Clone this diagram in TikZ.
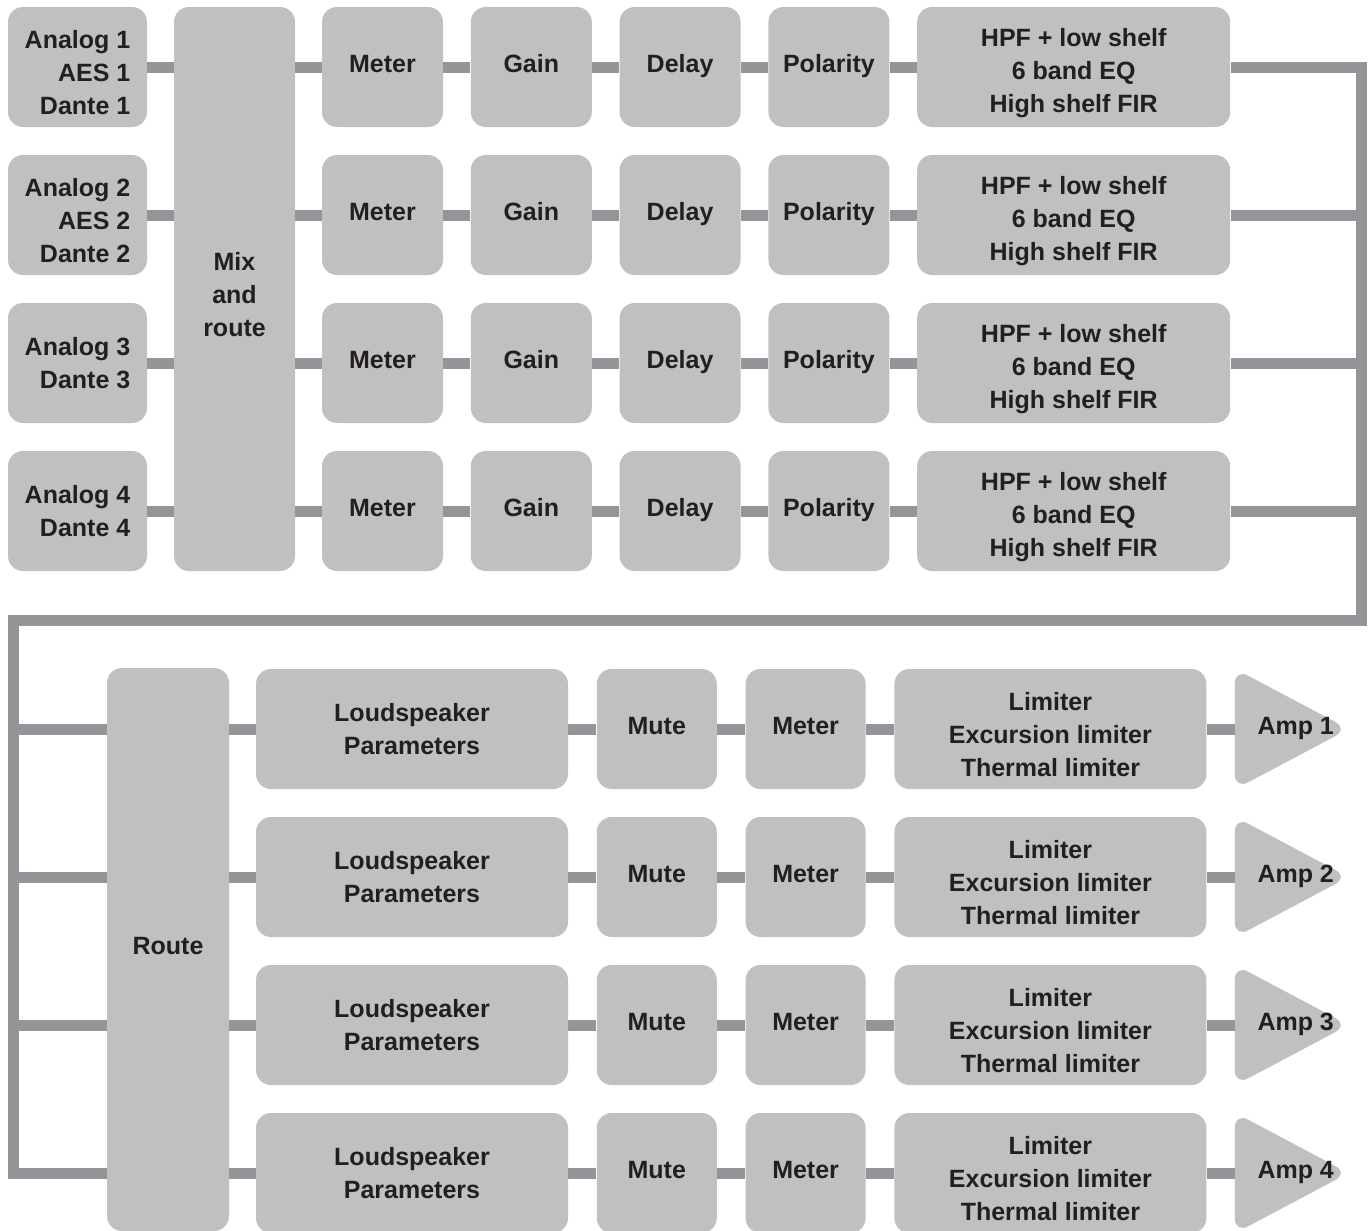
\documentclass[tikz,border=0pt]{standalone}
\usepackage{fontspec}
\setmainfont{Liberation Sans}
\usetikzlibrary{positioning, backgrounds}
\definecolor{colorBlock}{RGB}{192,192,192}
\definecolor{colorWire}{RGB}{147,149,152}
\definecolor{colorText}{RGB}{35,31,32}
\newcommand{\firstgap}{\rule{0pt}{15pt}}
\tikzset{
  block/.style={rectangle, rounded corners=7.5pt, fill=colorBlock, text=colorText,
    font=\fontsize{12.5}{16.5}\selectfont\bfseries, align=center, inner sep=0pt,
    minimum height=60pt, minimum width=60.5pt},
  oneline/.style={text height=9pt, text depth=4pt},
  wide/.style={block, minimum width=156pt},
  amp/.style={block, oneline, fill=none, minimum width=56.5pt, execute at begin node={\hspace*{4pt}}},
  wire/.style={draw=colorWire, line width=5.5pt, line join=miter}
}

\begin{document}
\begin{tikzpicture}[x=0.5pt, y=-0.5pt, node distance=13.5pt]
\useasboundingbox (0,0) rectangle (1372,1231);
% inputs and mixer
\node[block, minimum width=69.5pt, align=right] (in1) at (77.5,67) {\firstgap Analog 1\\AES 1\\Dante 1};
\node[block, minimum width=69.5pt, align=right] (in2) at (77.5,215) {\firstgap Analog 2\\AES 2\\Dante 2};
\node[block, minimum width=69.5pt, align=right] (in3) at (77.5,363) {Analog 3\\Dante 3};
\node[block, minimum width=69.5pt, align=right] (in4) at (77.5,511) {Analog 4\\Dante 4};
\node[block, minimum height=282pt] (mix) at (234.5,289) {\firstgap Mix\\and\\route};
% input channels
\node[block, oneline] (met1) at (382.5,67) {Meter};
\node[block, oneline, right=of met1] (gain1) {Gain};
\node[block, oneline, right=of gain1] (del1) {Delay};
\node[block, oneline, right=of del1] (pol1) {Polarity};
\node[wide, minimum width=156.5pt, right=of pol1] (eq1) {\firstgap HPF + low shelf\\6 band EQ\\High shelf FIR};
\node[block, oneline] (met2) at (382.5,215) {Meter};
\node[block, oneline, right=of met2] (gain2) {Gain};
\node[block, oneline, right=of gain2] (del2) {Delay};
\node[block, oneline, right=of del2] (pol2) {Polarity};
\node[wide, minimum width=156.5pt, right=of pol2] (eq2) {\firstgap HPF + low shelf\\6 band EQ\\High shelf FIR};
\node[block, oneline] (met3) at (382.5,363) {Meter};
\node[block, oneline, right=of met3] (gain3) {Gain};
\node[block, oneline, right=of gain3] (del3) {Delay};
\node[block, oneline, right=of del3] (pol3) {Polarity};
\node[wide, minimum width=156.5pt, right=of pol3] (eq3) {\firstgap HPF + low shelf\\6 band EQ\\High shelf FIR};
\node[block, oneline] (met4) at (382.5,511) {Meter};
\node[block, oneline, right=of met4] (gain4) {Gain};
\node[block, oneline, right=of gain4] (del4) {Delay};
\node[block, oneline, right=of del4] (pol4) {Polarity};
\node[wide, minimum width=156.5pt, right=of pol4] (eq4) {\firstgap HPF + low shelf\\6 band EQ\\High shelf FIR};
% output channels
\node[block, oneline, minimum width=61pt, minimum height=281.5pt] (route) at (168,949.5) {Route};
\node[wide] (spk1) at (412,729) {Loudspeaker\\Parameters};
\node[block, oneline, minimum width=60pt, right=14pt of spk1] (mute1) {Mute};
\node[block, oneline, minimum width=60pt, right=14pt of mute1] (omet1) {Meter};
\node[wide, right=14pt of omet1] (lim1) {\firstgap Limiter\\Excursion limiter\\Thermal limiter};
\node[amp, right=14pt of lim1] (amp1) {Amp 1};
\node[wide] (spk2) at (412,877) {Loudspeaker\\Parameters};
\node[block, oneline, minimum width=60pt, right=14pt of spk2] (mute2) {Mute};
\node[block, oneline, minimum width=60pt, right=14pt of mute2] (omet2) {Meter};
\node[wide, right=14pt of omet2] (lim2) {\firstgap Limiter\\Excursion limiter\\Thermal limiter};
\node[amp, right=14pt of lim2] (amp2) {Amp 2};
\node[wide] (spk3) at (412,1025) {Loudspeaker\\Parameters};
\node[block, oneline, minimum width=60pt, right=14pt of spk3] (mute3) {Mute};
\node[block, oneline, minimum width=60pt, right=14pt of mute3] (omet3) {Meter};
\node[wide, right=14pt of omet3] (lim3) {\firstgap Limiter\\Excursion limiter\\Thermal limiter};
\node[amp, right=14pt of lim3] (amp3) {Amp 3};
\node[wide] (spk4) at (412,1173) {Loudspeaker\\Parameters};
\node[block, oneline, minimum width=60pt, right=14pt of spk4] (mute4) {Mute};
\node[block, oneline, minimum width=60pt, right=14pt of mute4] (omet4) {Meter};
\node[wide, right=14pt of omet4] (lim4) {\firstgap Limiter\\Excursion limiter\\Thermal limiter};
\node[amp, right=14pt of lim4] (amp4) {Amp 4};
\coordinate (busR) at (1361,620);
\coordinate (busL) at (13,620);
% amplifier triangles
\begin{scope}[on background layer]
\fill[colorBlock, rounded corners=7.5pt] (amp1.north west) -- (amp1.east) -- (amp1.south west) -- cycle;
\fill[colorBlock, rounded corners=7.5pt] (amp2.north west) -- (amp2.east) -- (amp2.south west) -- cycle;
\fill[colorBlock, rounded corners=7.5pt] (amp3.north west) -- (amp3.east) -- (amp3.south west) -- cycle;
\fill[colorBlock, rounded corners=7.5pt] (amp4.north west) -- (amp4.east) -- (amp4.south west) -- cycle;
\end{scope}
% wires, top half
\draw[wire] (in1.east) -- (in1.east -| mix.west);
\draw[wire] (in2.east) -- (in2.east -| mix.west);
\draw[wire] (in3.east) -- (in3.east -| mix.west);
\draw[wire] (in4.east) -- (in4.east -| mix.west);
\draw[wire] (met1.west -| mix.east) -- (met1.west) (met1) -- (gain1) (gain1) -- (del1) (del1) -- (pol1) (pol1) -- (eq1);
\draw[wire] (met2.west -| mix.east) -- (met2.west) (met2) -- (gain2) (gain2) -- (del2) (del2) -- (pol2) (pol2) -- (eq2);
\draw[wire] (met3.west -| mix.east) -- (met3.west) (met3) -- (gain3) (gain3) -- (del3) (del3) -- (pol3) (pol3) -- (eq3);
\draw[wire] (met4.west -| mix.east) -- (met4.west) (met4) -- (gain4) (gain4) -- (del4) (del4) -- (pol4) (pol4) -- (eq4);
\draw[wire] (eq1.east) -| (busR) -- (busL) |- (spk4.west -| route.west);
\draw[wire] (eq2.east) -- (eq2.east -| busR);
\draw[wire] (eq3.east) -- (eq3.east -| busR);
\draw[wire] (eq4.east) -- (eq4.east -| busR);
% wires, bottom half
\draw[wire] (busL |- spk1.west) -- (spk1.west -| route.west);
\draw[wire] (busL |- spk2.west) -- (spk2.west -| route.west);
\draw[wire] (busL |- spk3.west) -- (spk3.west -| route.west);
\draw[wire] (spk1.west -| route.east) -- (spk1.west) (spk1) -- (mute1) (mute1) -- (omet1) (omet1) -- (lim1) (lim1.east) -- (amp1.west);
\draw[wire] (spk2.west -| route.east) -- (spk2.west) (spk2) -- (mute2) (mute2) -- (omet2) (omet2) -- (lim2) (lim2.east) -- (amp2.west);
\draw[wire] (spk3.west -| route.east) -- (spk3.west) (spk3) -- (mute3) (mute3) -- (omet3) (omet3) -- (lim3) (lim3.east) -- (amp3.west);
\draw[wire] (spk4.west -| route.east) -- (spk4.west) (spk4) -- (mute4) (mute4) -- (omet4) (omet4) -- (lim4) (lim4.east) -- (amp4.west);
\end{tikzpicture}
\end{document}
